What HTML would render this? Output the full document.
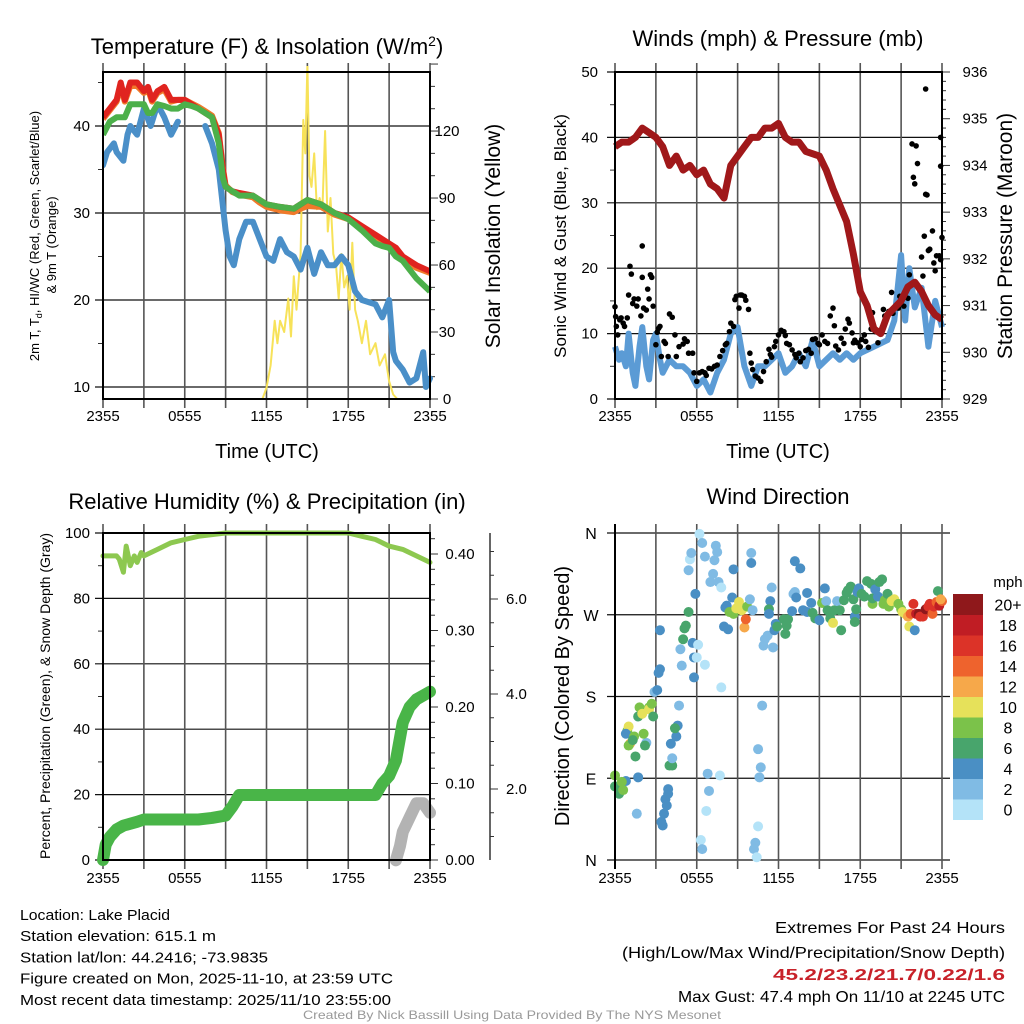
<!DOCTYPE html>
<html><head><meta charset="utf-8"><style>
html,body{margin:0;padding:0;background:#fff;width:1024px;height:1024px;overflow:hidden}
svg{display:block;font-family:"Liberation Sans",sans-serif}
</style></head><body>
<svg id="chart" width="1024" height="1024" viewBox="0 0 1024 1024" xmlns="http://www.w3.org/2000/svg"></svg>
<script>
// ---------- DATA ----------
const tempHours=[0,0.5,1,1.3,1.6,2,2.5,3,3.3,3.6,4,4.5,5,5.5,6,6.5,7,7.5,8,8.5,8.8,9,9.5,10,11,11.5,12,13,14,14.5,15,16,17,18,19,20,20.5,21,21.5,22,23,24];
const tempRed=[41,42,43,45,43,45,45,44,44.5,43,44,44.5,43,43,43,42.5,42,41.5,41,39,35,33,32.5,32.3,32,31.5,31,30.7,30.5,31,31.5,31,30,29.5,28.5,27.5,27,26.5,26,25,24,23.3];
const tempOrange=[40.8,41.8,42.8,44.6,42.8,44.6,44.6,43.8,44.2,42.8,43.8,44.2,42.8,43,43,42.6,42.2,41.7,41.2,39.2,35.2,33.2,32.4,32.1,31.8,31.2,30.7,30.3,30.1,30.5,30.8,30.7,29.8,29.3,28.3,27.3,26.8,26.2,25.6,24.7,23.7,23.1];
const tempGreen=[39,40.5,41,41,41,42.5,42.5,42.5,41.5,41.5,42.5,42.3,42,42,42.5,42.3,42,41.5,41,38,34,33,32.5,32,32,31.5,31,30.7,30.5,31,31.5,31,30,29.3,28,26.5,26.2,26,25,24.5,22.5,21];
const dewHours=[0,0.3,0.8,1,1.5,1.8,2,2.5,3,3.5,4,4.5,5,5.5,null,7.5,8,8.5,9,9.3,9.6,10,10.5,11,11.5,12,12.5,13,13.5,14,14.5,15,15.5,16,16.5,17,17.5,18,18.5,19,20,20.5,21,21.3,21.5,22,22.5,23,23.5,23.7,24];
const dewVals=[35.5,37,38,37,36,39,40,39,42,40,42.5,41,39,40.5,null,40,38,35,28,25,24,27,29,29,27,25,24.5,27,25.5,25,23.5,26,23,25.5,24,24,25,24,21,20,19.5,18,20,14,13,12,10.5,11,14,10,11];
const solarHours=[0,11.7,12,12.3,12.6,12.8,13,13.3,13.6,13.8,14,14.2,14.5,14.7,14.85,15,15.15,15.3,15.5,15.7,15.9,16.1,16.3,16.5,16.7,16.9,17.1,17.3,17.5,17.7,17.9,18.1,18.3,18.5,18.7,19,19.3,19.6,20,20.3,20.7,21,21.3,21.6,24];
const solarVals=[0,0,5,15,35,25,35,30,45,28,55,40,65,125,110,150,100,95,110,85,90,85,120,75,90,65,60,45,65,50,55,40,70,40,35,25,35,20,25,15,20,8,2,0,0];
const windHours=[0,0.3,0.5,0.8,1,1.3,1.5,1.8,2,2.3,2.5,2.8,3,3.3,3.5,4,4.5,5,5.5,6,6.5,7,7.5,8,8.5,9,9.5,10,10.5,11,11.5,12,12.5,13,13.5,14,14.5,15,16,16.5,17,17.5,18,19,20,20.5,21,21.3,21.6,22,22.5,23,23.5,24];
const windVals=[8,6,7,5,10,4,2,8,11,5,3,9,10,6,4,6,5,5,4,2,3,1,4,6,10,11,5,2,5,5,6,7,4,5,7,5,9,5,7,6,7,6,7,8,9,12,22,12,20,14,17,8,15,11];
const gustHours=[0,0.05,0.1,0.2,0.35,0.45,0.6,0.7,0.9,1.0,1.1,1.2,1.3,1.4,1.6,1.7,1.9,2.0,2.0,2.1,2.3,2.4,2.5,2.6,2.7,2.8,3.0,3.1,3.2,3.3,3.4,3.6,3.7,3.9,4.0,4.2,4.4,4.5,4.7,5.0,5.1,5.3,5.4,5.7,5.8,6.0,6.2,6.4,6.6,6.7,6.9,7.1,7.3,7.5,7.7,7.9,8.1,8.2,8.4,8.5,8.7,8.8,8.9,9.1,9.2,9.3,9.5,9.6,9.8,9.9,10.0,10.1,10.3,10.5,10.7,10.9,11.1,11.3,11.4,11.5,11.7,11.8,12.0,12.2,12.4,12.5,12.6,12.8,13.0,13.2,13.3,13.5,13.6,13.8,14.0,14.2,14.4,14.5,14.7,14.9,15.0,15.2,15.4,15.6,15.8,16.0,16.1,16.2,16.4,16.6,16.8,16.9,17.1,17.2,17.4,17.5,17.6,17.8,18.0,18.1,18.3,18.4,18.6,18.8,18.9,19.1,19.3,19.5,19.7,19.8,20.0,20.1,20.3,20.4,20.6,20.8,20.9,21.2,21.4,21.5,21.6,21.8,21.9,22.0,22.1,22.2,22.5,22.6,22.7,22.8,22.8,22.9,23.0,23.1,23.3,23.4,23.5,23.6,23.8,23.9,23.9,24.0,23.9];
const gustVals=[14.1,12.6,11.1,9.8,12.1,12.4,11.6,11.1,12.4,15.9,20.3,19.1,14.6,15.3,14.2,15.3,12.7,18.6,23.4,13.9,13.6,16.8,15.3,19.0,18.6,14.2,8.3,10.2,10.8,11.1,6.5,8.8,8.5,6.5,13.0,12.5,9.8,6.5,8.0,8.4,9.2,8.8,7.0,7.0,4.0,2.7,4.0,4.2,4.0,3.6,4.7,4.6,5.0,5.2,6.5,7.4,8.3,8.5,10.3,11.6,11.1,15.2,15.7,13.9,15.9,15.9,15.7,15.1,13.7,7.0,5.5,4.5,3.5,3.2,2.7,4.2,5.7,7.6,6.8,6.4,8.0,8.8,9.8,10.5,10.3,9.7,8.5,8.3,7.5,6.8,6.3,7.0,5.7,6.3,7.4,7.6,7.0,9.1,9.2,8.5,8.3,9.8,8.8,8.5,12.7,13.9,11.2,8.1,7.5,9.3,8.5,10.7,12.2,11.6,10.1,8.6,9.0,8.6,8.0,9.1,9.8,8.8,7.9,10.7,13.2,10.3,8.6,10.3,13.7,12.7,12.6,13.4,16.3,13.1,14.2,13.9,15.7,14.2,16.8,15.4,19.0,39.0,33.9,32.9,38.7,36.0,21.7,18.8,24.9,31.3,47.4,31.2,22.7,22.9,25.7,20.8,19.6,21.9,21.9,35.6,21.3,24.7,40.0];
const presHours=[0,0.5,1,1.5,2,2.5,3,3.5,4,4.5,5,5.5,6,6.5,7,7.5,8,8.5,9,9.5,10,10.5,11,11.5,12,12.5,13,13.5,14,15,15.5,16,17,17.5,18,18.5,19,19.5,20,21,21.5,22,22.5,23,23.5,24];
const presVals=[934.4,934.5,934.5,934.6,934.8,934.7,934.6,934.4,934.0,934.2,933.9,934.0,933.8,933.9,933.6,933.5,933.3,934.0,934.2,934.4,934.6,934.6,934.8,934.8,934.9,934.6,934.5,934.5,934.3,934.2,933.9,933.5,932.8,932.1,931.3,931.0,930.5,930.4,930.8,931.1,931.4,931.5,931.3,931.0,930.8,930.7];
const rhHours=[0,1,1.2,1.5,1.7,2,2.3,2.5,2.8,3,4,5,6,7,8,9,10,12,14,16,18,19,20,21,22,23,24];
const rhVals=[93,93,92,88,96,90,93,91,94,93,95,97,98,99,99.5,100,100,100,100,100,100,99,98,96,95,93,91];
const precipHours=[0,0.2,0.5,1,1.5,2.5,3,5,7,8,9,9.5,10,12,16,20,20.5,21,21.5,22,22.5,23,24];
const precipVals=[0,0.02,0.03,0.04,0.045,0.05,0.053,0.053,0.053,0.055,0.058,0.07,0.085,0.085,0.085,0.085,0.1,0.11,0.13,0.18,0.2,0.21,0.22];
const snowHours=[21.5,21.8,22,22.5,23,23.5,24];
const snowVals=[0.5,0.8,1.1,1.4,1.7,1.7,1.5];
const dirHours=[0,0,0.3,0.6,0.8,0.5,1.6,1.7,1.5,1.1,1.0,0.9,1.0,0.8,1.4,1.3,1.7,1.8,2.0,2.3,2.2,2.1,2.5,2.5,2.7,2.8,2.9,3.1,3.2,3.3,3.3,3.4,3.5,3.6,3.7,3.8,3.9,3.9,4.0,4.2,4.2,4.1,4.5,4.6,4.4,4.7,4.9,4.8,5.0,5.1,5.2,5.4,5.7,5.8,5.8,5.9,5.4,5.5,5.6,6.1,6.0,6.2,6.4,6.6,6.6,6.8,6.9,6.7,6.3,6.4,7.0,7.2,7.3,7.4,7.5,7.6,7.8,7.8,7.7,8.0,8.1,8.2,8.3,8.6,8.7,8.4,8.7,8.9,9.1,9.3,9.5,9.6,9.7,9.9,10.1,10.0,10.0,10.8,10.5,10.7,10.6,10.5,10.3,10.2,10.4,10.9,11.0,11.2,11.6,11.5,11.4,11.3,11.3,11.8,11.7,11.9,12.4,12.5,12.6,12.7,13.0,13.1,13.2,13.3,13.2,13.6,14.1,13.8,14.1,14.4,14.5,14.7,15.0,15.2,15.4,15.5,15.6,15.8,16.0,16.1,16.3,16.5,16.6,16.8,17.0,17.1,17.3,17.5,17.6,17.6,17.7,17.8,17.9,18.1,18.3,18.5,18.8,18.9,18.9,19.1,19.3,19.4,19.6,19.7,19.8,20.0,20.1,20.3,20.5,20.8,21.0,21.1,21.3,21.5,21.6,21.7,21.9,22.0,22.1,22.3,22.4,22.6,22.8,23.0,23.1,23.3,23.4,23.6,23.7,23.8,24.0,23.9];
const dirDeg=[93,81,73,77,87,86,51,91,114,128,126,142,147,139,136,132,158,168,161,129,126,139,168,166,172,158,185,187,206,210,253,42,38,51,67,60,73,78,104,104,112,128,136,148,145,170,214,232,243,255,258,273,239,223,201,293,319,331,338,237,223,359,349,334,215,95,76,54,22,12,306,315,330,346,339,306,300,190,93,257,278,280,254,289,320,273,271,277,284,275,256,265,279,287,275,338,327,170,122,102,91,37,19,12,3,236,243,247,234,300,285,276,271,260,253,257,265,249,258,265,274,293,295,289,329,321,294,275,273,283,272,266,264,283,299,285,275,266,261,275,285,275,253,286,294,297,301,287,268,262,276,295,299,293,290,307,304,282,288,298,290,306,309,282,286,293,279,285,287,282,276,273,271,268,257,271,282,253,271,271,268,268,276,279,282,271,279,284,296,280,285,287];
const dirSpeed=[8,6,6,8,4,8,2,4,6,12,8,8,10,4,8,6,6,8,10,2,6,8,8,10,8,6,2,4,4,4,4,4,4,4,4,4,4,4,6,6,2,4,4,4,6,2,2,2,6,6,6,6,4,4,4,4,2,1,2,1,1,0,2,2,1,2,2,1,1,2,2,2,2,2,2,2,1,1,1,4,4,4,4,4,4,8,8,10,10,10,12,14,8,2,2,2,4,2,2,2,2,1,2,2,0,2,2,2,2,2,4,6,4,4,4,6,6,6,6,6,4,2,2,4,4,4,4,4,4,4,6,6,4,8,4,2,6,6,10,6,2,6,6,6,6,6,6,6,4,6,6,4,4,6,6,6,6,8,6,4,4,6,6,8,8,6,8,10,10,8,8,10,10,12,10,14,16,4,18,20,16,16,20,16,16,14,16,14,6,18,14,12];
const speedBinLabels=["0","2","4","6","8","10","12","14","16","18","20+"];
const speedBinColors=["#b4e3f8","#80bbe4","#4a8fc4","#48a56c","#7bc24a","#e6e15a","#f6a84a","#ee632d","#dc3328","#c01d24","#8f181b"];
const timeTickLabels=["2355","0555","1155","1755","2355"];

// ---------- helpers ----------
const NS="http://www.w3.org/2000/svg";
const svg=document.getElementById('chart');
function el(tag,attrs,parent){const e=document.createElementNS(NS,tag);for(const k in attrs)e.setAttribute(k,attrs[k]);(parent||svg).appendChild(e);return e;}
function txt(s,x,y,size,anchor,parent,extra){const t=el('text',Object.assign({x:x,y:y,'font-size':size,'text-anchor':anchor||'middle',fill:'#000'},extra||{}),parent);t.textContent=s;return t;}
function linePath(hs,vs,xf,yf){let d='',pen=false;for(let i=0;i<hs.length;i++){if(hs[i]===null||vs[i]===null){pen=false;continue;}d+=(pen?'L':'M')+xf(hs[i]).toFixed(1)+','+yf(vs[i]).toFixed(1);pen=true;}return d;}
function timeAxis(g,x0,x1,yTop,yBot,labelY){
  for(let i=0;i<=8;i++){const x=x0+(x1-x0)*i/8;
    const l=el('line',{x1:x,x2:x,y1:yTop-9,y2:yBot+9,stroke:'#555','stroke-width':1.6},g);
    
    }
  timeTickLabels.forEach((s,i)=>{const t=txt(s,x0+(x1-x0)*i/4,labelY,15,'middle',g);
    
    });
}
function hGrid(g,x0,x1,y,ext){const l=el('line',{x1:x0-ext,x2:x1,y1:y,y2:y,stroke:'#111','stroke-width':1.2},g);
  
  }
function tick(g,x,y,len){const l=el('line',{x1:x,x2:x+len,y1:y,y2:y,stroke:'#333','stroke-width':1},g);
  
  }
function frame(g,x0,x1,y0,y1){const r=el('rect',{x:x0,y:y0,width:x1-x0,height:y1-y0,fill:'none',stroke:'#000','stroke-width':2},g);
  
  }
function vlabel(s,x,y,size,g){const t=txt(s,x,y,size,'middle',g,{transform:'rotate(-90 '+x+' '+y+')'});return t;}

// ---------- Panel 1: Temperature ----------
(function(){
const g=el('g',{});


const X0=103,X1=430,Y0=72,Y1=399;
const xs=h=>X0+(X1-X0)*h/24;
const ys=v=>387-(v-10)*8.7;
const ysr=v=>399-v*2.233;
[10,20,30,40].forEach(v=>{hGrid(g,X0,X1,ys(v),8);const t=txt(String(v),90,ys(v)+5,15,'end',g);
  
  });
[15,25,35,45].forEach(v=>tick(g,X0-5,ys(v),5));
for(let v=0;v<=150;v+=10){tick(g,X1,ysr(v),v%30===0?8:5);}
[0,30,60,90,120].forEach(v=>{const t=txt(String(v),447,ysr(v)+5,15,'middle',g);
  
  });
timeAxis(g,X0,X1,Y0,Y1,421);
const cl=el('clipPath',{id:'c1'},g);el('rect',{x:X0,y:Y0-6,width:X1-X0+4,height:Y1-Y0+6},cl);
const pg=el('g',{'clip-path':'url(#c1)'},g);
const sol=el('path',{d:linePath(solarHours,solarVals,xs,ysr),fill:'none',stroke:'#f7e259','stroke-width':2,'stroke-linejoin':'round'},pg);


const dew=el('path',{d:linePath(dewHours,dewVals,xs,ys),fill:'none',stroke:'#4a8fc8','stroke-width':6,'stroke-linejoin':'round','stroke-linecap':'round'},pg);


const or=el('path',{d:linePath(tempHours,tempOrange,xs,ys),fill:'none',stroke:'#f07a2a','stroke-width':6,'stroke-linejoin':'round'},pg);


const rd=el('path',{d:linePath(tempHours,tempRed,xs,ys),fill:'none',stroke:'#e0241f','stroke-width':6,'stroke-linejoin':'round'},pg);


const gr=el('path',{d:linePath(tempHours,tempGreen,xs,ys),fill:'none',stroke:'#4cb04a','stroke-width':6,'stroke-linejoin':'round'},pg);


frame(g,X0,X1,Y0,Y1);
const tt=txt('',267,54,22,'middle',g);tt.innerHTML='Temperature (F) &amp; Insolation (W/m<tspan dy="-8" font-size="14">2</tspan><tspan dy="8">)</tspan>';


const xl=txt('Time (UTC)',267,458,20,'middle',g);


const l1=vlabel('',39,236,13,g);l1.innerHTML='2m T, T<tspan dy="3" font-size="9">d</tspan><tspan dy="-3">, HI/WC (Red, Green, Scarlet/Blue)</tspan>';


const l2=vlabel('& 9m T (Orange)',56,245,13,g);


const rl=vlabel('Solar Insolation (Yellow)',500,236,21,g);


})();

// ---------- Panel 2: Winds ----------
(function(){
const g=el('g',{});


const X0=615,X1=942,Y0=72,Y1=399;
const xs=h=>X0+(X1-X0)*h/24;
const ys=v=>Y1-v*(Y1-Y0)/50;
const ysp=v=>Y1-(v-929)*(Y1-Y0)/7;
[0,10,20,30,40,50].forEach(v=>{hGrid(g,X0,X1,ys(v),8);const t=txt(String(v),598,ys(v)+5,15,'end',g);
  
  });
[5,15,25,35,45].forEach(v=>tick(g,X0-5,ys(v),5));
for(let v=929;v<=936.001;v+=0.2){const major=Math.abs(v-Math.round(v))<0.01;tick(g,X1,ysp(v),major?8:4);}
for(let v=929;v<=936;v++){const t=txt(String(v),975,ysp(v)+5,15,'middle',g);
  
  }
timeAxis(g,X0,X1,Y0,Y1,421);
const w=el('path',{d:linePath(windHours,windVals,xs,ys),fill:'none',stroke:'#5b9bd5','stroke-width':6,'stroke-linejoin':'round'},g);


for(let i=0;i<gustHours.length;i++){const c=el('circle',{cx:xs(gustHours[i]),cy:ys(gustVals[i]),r:2.8,fill:'#000'},g);
  
  }
const p=el('path',{d:linePath(presHours,presVals,xs,ysp),fill:'none',stroke:'#a0181a','stroke-width':7,'stroke-linejoin':'round'},g);


frame(g,X0,X1,Y0,Y1);
const tt=txt('Winds (mph) & Pressure (mb)',778,46,22,'middle',g);


const xl=txt('Time (UTC)',778,458,20,'middle',g);


const l1=vlabel('Sonic Wind & Gust (Blue, Black)',566,236,17,g);


const l2=vlabel('Station Pressure (Maroon)',1012,236,21,g);


})();

// ---------- Panel 3: RH & Precip ----------
(function(){
const g=el('g',{});


const X0=103,X1=430,Y0=533,Y1=860;
const xs=h=>X0+(X1-X0)*h/24;
const ys=v=>Y1-v*(Y1-Y0)/100;
const ypr=v=>Y1-v*765;
const ysn=v=>884-v*47.5;
[0,20,40,60,80,100].forEach(v=>{hGrid(g,X0,X1,ys(v),8);const t=txt(String(v),90,ys(v)+5,15,'end',g);
  
  });
[10,30,50,70,90].forEach(v=>tick(g,X0-5,ys(v),5));
for(let v=0;v<=0.425;v+=0.02){tick(g,X1,ypr(v),Math.abs(v*10-Math.round(v*10))<0.01?8:5);}
[0,0.1,0.2,0.3,0.4].forEach(v=>{const t=txt(v.toFixed(2),460,ypr(v)+5,15,'middle',g);
  
  });
const ax=el('line',{x1:490,x2:490,y1:533,y2:860,stroke:'#333','stroke-width':1.5},g);


for(let v=0.5;v<=7;v+=0.5){if(ysn(v)>=533&&ysn(v)<=860)tick(g,490,ysn(v),v%2===0?8:4);}
[2,4,6].forEach(v=>{const t=txt(v.toFixed(1),506,ysn(v)+5,15,'start',g);
  
  });
timeAxis(g,X0,X1,Y0,Y1,883);
const sn=el('path',{d:linePath(snowHours,snowVals,xs,ysn),fill:'none',stroke:'#b3b3b3','stroke-width':12,'stroke-linejoin':'round','stroke-linecap':'round'},g);


const pr=el('path',{d:linePath(precipHours,precipVals,xs,ypr),fill:'none',stroke:'#49b548','stroke-width':12,'stroke-linejoin':'round','stroke-linecap':'round'},g);


const rh=el('path',{d:linePath(rhHours,rhVals,xs,ys),fill:'none',stroke:'#8dc850','stroke-width':5,'stroke-linejoin':'round','stroke-linecap':'round'},g);


frame(g,X0,X1,Y0,Y1);
const tt=txt('Relative Humidity (%) & Precipitation (in)',267,509,22,'middle',g);


const l1=vlabel('Percent, Precipitation (Green), & Snow Depth (Gray)',50,696,14,g);


})();

// ---------- Panel 4: Wind direction ----------
(function(){
const g=el('g',{});


const X0=615,X1=942,Y0=533,Y1=860;
const xs=h=>X0+(X1-X0)*h/24;
const ys=d=>Y1-d*(Y1-Y0)/360;
const dl=['N','E','S','W','N'];
[0,90,180,270,360].forEach((v,i)=>{const l=el('line',{x1:X0-8,x2:X1+8,y1:ys(v),y2:ys(v),stroke:'#111','stroke-width':1.2},g);
  
  
  const t=txt(dl[i],591,ys(v)+6,16,'middle',g);
  
  });
timeAxis(g,X0,X1,Y0,Y1,883);
for(let i=0;i<dirHours.length;i++){const b=Math.min(10,Math.floor(dirSpeed[i]/2));
  const c=el('circle',{cx:xs(dirHours[i]),cy:ys(dirDeg[i]),r:5,fill:speedBinColors[b]},g);
  
  }
const ax=el('line',{x1:X0,x2:X0,y1:Y0-9,y2:Y1+9,stroke:'#000','stroke-width':2},g);


const tt=txt('Wind Direction',778,504,22,'middle',g);


const l1=vlabel('Direction (Colored By Speed)',569,696,20,g);


const lg=el('g',{},g);


const BH=20.5;
speedBinColors.forEach((c,i)=>{const y=594+(10-i)*BH;
  const r=el('rect',{x:953,y:y,width:30,height:BH+0.5,fill:c},lg);
  
  
  const t=txt(speedBinLabels[i],1008,y+BH/2+6,16,'middle',lg);
  
  });
const u=txt('mph',1008,587,15,'middle',lg);


})();

// ---------- Footer text ----------
(function(){
const g=el('g',{});


const left=[['Location: Lake Placid',150],['Station elevation: 615.1 m',196],['Station lat/lon: 44.2416; -73.9835',248],['Figure created on Mon, 2025-11-10, at 23:59 UTC',373],['Most recent data timestamp: 2025/11/10 23:55:00',371]];
left.forEach((a,i)=>{const t=txt(a[0],20,920+i*21.2,15,'start',g,{textLength:a[1],lengthAdjust:'spacingAndGlyphs'});
  
  });
const right=[['Extremes For Past 24 Hours',230,933,'#000','normal'],['(High/Low/Max Wind/Precipitation/Snow Depth)',383,958,'#000','normal'],['45.2/23.2/21.7/0.22/1.6',232,980,'#c8222a','bold'],['Max Gust: 47.4 mph On 11/10 at 2245 UTC',327,1002,'#000','normal']];
right.forEach(a=>{const t=txt(a[0],1005,a[2],16,'end',g,{textLength:a[1],lengthAdjust:'spacingAndGlyphs',fill:a[3],'font-weight':a[4]});
  
  });
const f=txt('Created By Nick Bassill Using Data Provided By The NYS Mesonet',512,1019,12,'middle',g,{fill:'#999',textLength:418,lengthAdjust:'spacingAndGlyphs'});


})();
</script>
</body></html>
